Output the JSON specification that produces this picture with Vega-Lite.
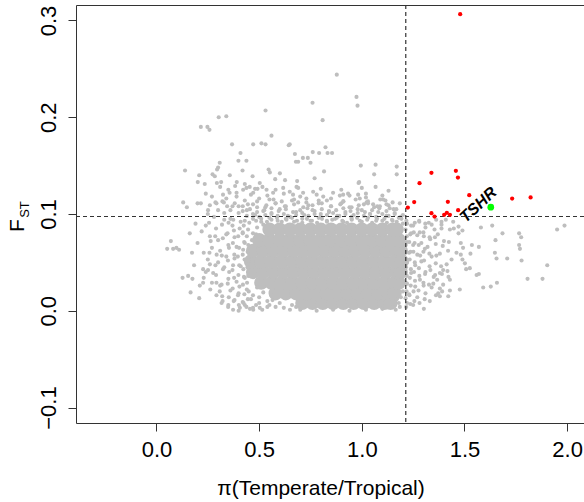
{
  "$schema": "https://vega.github.io/schema/vega-lite/v6.json",
  "width": 508,
  "height": 418,
  "autosize": {"type": "none"},
  "padding": {"left": 76, "top": 5, "right": 0, "bottom": 79},
  "background": "white",
  "config": {"view": {"stroke": null}, "font": "Liberation Sans"},
  "datasets": {
    "core": [
      {"x":0.71,"y":0.008},{"x":0.76,"y":0.008},{"x":0.81,"y":0.008},{"x":0.86,"y":0.008},{"x":0.91,"y":0.008},{"x":0.96,"y":0.008},{"x":1.01,"y":0.008},{"x":1.06,"y":0.008},{"x":1.11,"y":0.008},{"x":1.14,"y":0.008},
      {"x":0.58,"y":0.018},{"x":0.63,"y":0.018},{"x":0.68,"y":0.018},{"x":0.73,"y":0.018},{"x":0.78,"y":0.018},{"x":0.83,"y":0.018},{"x":0.88,"y":0.018},{"x":0.93,"y":0.018},{"x":0.98,"y":0.018},{"x":1.03,"y":0.018},{"x":1.08,"y":0.018},{"x":1.13,"y":0.018},{"x":1.16,"y":0.018},
      {"x":0.51,"y":0.029},{"x":0.56,"y":0.029},{"x":0.61,"y":0.029},{"x":0.66,"y":0.029},{"x":0.71,"y":0.029},{"x":0.76,"y":0.029},{"x":0.81,"y":0.029},{"x":0.86,"y":0.029},{"x":0.91,"y":0.029},{"x":0.96,"y":0.029},{"x":1.01,"y":0.029},{"x":1.06,"y":0.029},{"x":1.11,"y":0.029},{"x":1.16,"y":0.029},{"x":1.18,"y":0.029},
      {"x":0.47,"y":0.040},{"x":0.52,"y":0.040},{"x":0.57,"y":0.040},{"x":0.62,"y":0.040},{"x":0.67,"y":0.040},{"x":0.72,"y":0.040},{"x":0.77,"y":0.040},{"x":0.82,"y":0.040},{"x":0.87,"y":0.040},{"x":0.92,"y":0.040},{"x":0.97,"y":0.040},{"x":1.02,"y":0.040},{"x":1.07,"y":0.040},{"x":1.12,"y":0.040},{"x":1.17,"y":0.040},{"x":1.19,"y":0.040},
      {"x":0.46,"y":0.051},{"x":0.51,"y":0.051},{"x":0.56,"y":0.051},{"x":0.61,"y":0.051},{"x":0.66,"y":0.051},{"x":0.71,"y":0.051},{"x":0.76,"y":0.051},{"x":0.81,"y":0.051},{"x":0.86,"y":0.051},{"x":0.91,"y":0.051},{"x":0.96,"y":0.051},{"x":1.01,"y":0.051},{"x":1.06,"y":0.051},{"x":1.11,"y":0.051},{"x":1.16,"y":0.051},{"x":1.195,"y":0.051},
      {"x":0.47,"y":0.062},{"x":0.52,"y":0.062},{"x":0.57,"y":0.062},{"x":0.62,"y":0.062},{"x":0.67,"y":0.062},{"x":0.72,"y":0.062},{"x":0.77,"y":0.062},{"x":0.82,"y":0.062},{"x":0.87,"y":0.062},{"x":0.92,"y":0.062},{"x":0.97,"y":0.062},{"x":1.02,"y":0.062},{"x":1.07,"y":0.062},{"x":1.12,"y":0.062},{"x":1.17,"y":0.062},{"x":1.19,"y":0.062},
      {"x":0.50,"y":0.073},{"x":0.55,"y":0.073},{"x":0.60,"y":0.073},{"x":0.65,"y":0.073},{"x":0.70,"y":0.073},{"x":0.75,"y":0.073},{"x":0.80,"y":0.073},{"x":0.85,"y":0.073},{"x":0.90,"y":0.073},{"x":0.95,"y":0.073},{"x":1.00,"y":0.073},{"x":1.05,"y":0.073},{"x":1.10,"y":0.073},{"x":1.15,"y":0.073},{"x":1.18,"y":0.073},
      {"x":0.55,"y":0.084},{"x":0.60,"y":0.084},{"x":0.65,"y":0.084},{"x":0.70,"y":0.084},{"x":0.75,"y":0.084},{"x":0.80,"y":0.084},{"x":0.85,"y":0.084},{"x":0.90,"y":0.084},{"x":0.95,"y":0.084},{"x":1.00,"y":0.084},{"x":1.05,"y":0.084},{"x":1.10,"y":0.084},{"x":1.15,"y":0.084},{"x":1.17,"y":0.084}
    ],
    "bg": [
      {"x":0.531,"y":0.207},{"x":0.303,"y":0.200},{"x":0.340,"y":0.201},{"x":0.216,"y":0.190},{"x":0.248,"y":0.190},{"x":0.258,"y":0.187},{"x":0.560,"y":0.181},{"x":0.511,"y":0.173},{"x":0.531,"y":0.172},{"x":0.471,"y":0.172},{"x":0.368,"y":0.172},{"x":0.644,"y":0.171},{"x":0.409,"y":0.163},{"x":0.674,"y":0.162},{"x":0.679,"y":0.154},{"x":0.690,"y":0.154},{"x":0.399,"y":0.155},{"x":0.438,"y":0.155},{"x":0.308,"y":0.153},{"x":0.300,"y":0.148},{"x":0.295,"y":0.146},{"x":0.139,"y":0.145},{"x":0.273,"y":0.141},{"x":0.284,"y":0.139},{"x":0.357,"y":0.140},{"x":0.419,"y":0.145},{"x":0.468,"y":0.139},{"x":0.546,"y":0.146},{"x":0.552,"y":0.143},{"x":0.601,"y":0.142},{"x":0.626,"y":0.135},{"x":0.578,"y":0.136},{"x":0.208,"y":0.140},{"x":0.201,"y":0.133},{"x":0.235,"y":0.131},{"x":0.294,"y":0.132},{"x":0.315,"y":0.133},{"x":0.391,"y":0.133},{"x":0.383,"y":0.129},{"x":0.430,"y":0.131},{"x":0.438,"y":0.127},{"x":0.240,"y":0.121},{"x":0.356,"y":0.122},{"x":0.471,"y":0.122},{"x":0.492,"y":0.126},{"x":0.516,"y":0.128},{"x":0.130,"y":0.112},{"x":0.148,"y":0.107},{"x":0.200,"y":0.111},{"x":0.216,"y":0.111},{"x":0.251,"y":0.104},{"x":0.292,"y":0.111},{"x":0.321,"y":0.113},{"x":0.381,"y":0.111},{"x":0.324,"y":0.120},
      {"x":0.878,"y":0.244},{"x":0.760,"y":0.215},{"x":0.974,"y":0.221},{"x":0.979,"y":0.212},{"x":0.809,"y":0.197},{"x":0.649,"y":0.172},{"x":0.713,"y":0.158},{"x":0.737,"y":0.158},{"x":0.750,"y":0.153},{"x":0.761,"y":0.164},{"x":0.792,"y":0.163},{"x":0.823,"y":0.169},{"x":0.833,"y":0.163},{"x":0.855,"y":0.163},{"x":0.816,"y":0.144},{"x":0.770,"y":0.137},{"x":0.685,"y":0.134},{"x":0.995,"y":0.150},{"x":1.067,"y":0.151},{"x":1.060,"y":0.141},{"x":1.170,"y":0.149},{"x":1.170,"y":0.141},{"x":0.987,"y":0.133},{"x":0.984,"y":0.132},{"x":1.067,"y":0.128},
      {"x":0.893,"y":0.119},{"x":0.909,"y":0.120},{"x":1.104,"y":0.115},{"x":1.115,"y":0.114},{"x":0.812,"y":0.118},{"x":0.763,"y":0.123},{"x":0.714,"y":0.122},{"x":0.665,"y":0.120},{"x":0.933,"y":0.121},{"x":0.982,"y":0.120},{"x":0.990,"y":0.116},{"x":1.023,"y":0.112},{"x":1.055,"y":0.110},{"x":1.088,"y":0.108},{"x":1.136,"y":0.106},{"x":1.168,"y":0.105},{"x":1.185,"y":0.111},{"x":0.390,"y":0.122},{"x":0.422,"y":0.125},{"x":0.454,"y":0.128},{"x":0.503,"y":0.132},{"x":0.536,"y":0.125},{"x":0.568,"y":0.122},{"x":0.617,"y":0.127},{"x":0.649,"y":0.123},{"x":0.682,"y":0.128},{"x":0.287,"y":0.112},{"x":0.328,"y":0.112},{"x":0.344,"y":0.108},
      {"x":0.40,"y":0.101},{"x":0.44,"y":0.104},{"x":0.48,"y":0.099},{"x":0.52,"y":0.103},{"x":0.56,"y":0.100},{"x":0.60,"y":0.105},{"x":0.64,"y":0.098},{"x":0.68,"y":0.102},{"x":0.72,"y":0.099},{"x":0.76,"y":0.104},{"x":0.80,"y":0.100},{"x":0.84,"y":0.103},{"x":0.88,"y":0.098},{"x":0.92,"y":0.102},{"x":0.96,"y":0.099},{"x":1.00,"y":0.104},{"x":1.04,"y":0.100},{"x":1.08,"y":0.102},{"x":1.12,"y":0.098},{"x":1.16,"y":0.101},{"x":1.20,"y":0.099},{"x":0.42,"y":0.108},{"x":0.47,"y":0.110},{"x":0.53,"y":0.107},{"x":0.58,"y":0.111},{"x":0.63,"y":0.108},{"x":0.69,"y":0.112},{"x":0.74,"y":0.109},{"x":0.79,"y":0.111},{"x":0.85,"y":0.108},{"x":0.90,"y":0.111},{"x":0.95,"y":0.107},{"x":1.01,"y":0.110},{"x":1.06,"y":0.107},{"x":1.13,"y":0.109},{"x":0.50,"y":0.116},{"x":0.57,"y":0.115},{"x":0.66,"y":0.114},{"x":0.73,"y":0.116},{"x":0.83,"y":0.114},{"x":0.91,"y":0.113},{"x":1.02,"y":0.117},
      {"x":0.36,"y":0.095},{"x":0.43,"y":0.093},{"x":0.47,"y":0.095},{"x":0.51,"y":0.092},{"x":0.55,"y":0.096},{"x":0.59,"y":0.093},{"x":0.63,"y":0.095},{"x":0.67,"y":0.092},{"x":0.71,"y":0.095},{"x":0.75,"y":0.093},{"x":0.79,"y":0.096},{"x":0.83,"y":0.093},{"x":0.87,"y":0.095},{"x":0.91,"y":0.092},{"x":0.95,"y":0.095},{"x":0.99,"y":0.093},{"x":1.03,"y":0.096},{"x":1.07,"y":0.093},{"x":1.11,"y":0.095},{"x":1.15,"y":0.093},{"x":1.18,"y":0.096},{"x":1.20,"y":0.090},
      {"x":0.485,"y":0.093},{"x":0.510,"y":0.095},{"x":0.538,"y":0.092},{"x":0.560,"y":0.094},{"x":0.587,"y":0.096},{"x":0.610,"y":0.092},{"x":0.633,"y":0.094},{"x":0.660,"y":0.096},{"x":0.684,"y":0.093},{"x":0.710,"y":0.091},{"x":0.733,"y":0.095},{"x":0.757,"y":0.093},{"x":0.782,"y":0.091},{"x":0.806,"y":0.095},{"x":0.830,"y":0.092},{"x":0.856,"y":0.094},{"x":0.878,"y":0.096},{"x":0.905,"y":0.093},{"x":0.928,"y":0.091},{"x":0.951,"y":0.094},{"x":0.977,"y":0.096},{"x":1.000,"y":0.092},{"x":1.026,"y":0.094},{"x":1.050,"y":0.091},{"x":1.074,"y":0.095},{"x":1.100,"y":0.093},{"x":1.122,"y":0.091},{"x":1.147,"y":0.094},{"x":1.170,"y":0.092},{"x":1.193,"y":0.095},
      {"x":0.440,"y":0.098},{"x":0.470,"y":0.100},{"x":0.500,"y":0.097},{"x":0.530,"y":0.099},{"x":0.560,"y":0.101},{"x":0.590,"y":0.098},{"x":0.620,"y":0.100},{"x":0.650,"y":0.097},{"x":0.680,"y":0.099},{"x":0.710,"y":0.101},{"x":0.740,"y":0.098},{"x":0.770,"y":0.100},{"x":0.800,"y":0.097},{"x":0.830,"y":0.099},{"x":0.860,"y":0.101},{"x":0.890,"y":0.098},{"x":0.920,"y":0.100},{"x":0.950,"y":0.097},{"x":0.980,"y":0.101},{"x":1.010,"y":0.098},{"x":1.040,"y":0.100},{"x":1.070,"y":0.097},{"x":1.100,"y":0.100},{"x":1.130,"y":0.098},{"x":1.160,"y":0.100},{"x":1.190,"y":0.097},
      {"x":0.420,"y":0.103},{"x":0.455,"y":0.105},{"x":0.490,"y":0.102},{"x":0.525,"y":0.104},{"x":0.560,"y":0.106},{"x":0.595,"y":0.103},{"x":0.630,"y":0.105},{"x":0.665,"y":0.102},{"x":0.700,"y":0.104},{"x":0.735,"y":0.106},{"x":0.770,"y":0.103},{"x":0.805,"y":0.105},{"x":0.840,"y":0.102},{"x":0.875,"y":0.104},{"x":0.910,"y":0.106},{"x":0.945,"y":0.103},{"x":0.980,"y":0.105},{"x":1.015,"y":0.102},{"x":1.050,"y":0.104},{"x":1.085,"y":0.106},{"x":1.120,"y":0.103},{"x":1.155,"y":0.105},
      {"x":0.400,"y":0.108},{"x":0.445,"y":0.110},{"x":0.490,"y":0.107},{"x":0.535,"y":0.109},{"x":0.580,"y":0.111},{"x":0.625,"y":0.108},{"x":0.670,"y":0.110},{"x":0.715,"y":0.107},{"x":0.760,"y":0.109},{"x":0.805,"y":0.111},{"x":0.850,"y":0.108},{"x":0.895,"y":0.110},{"x":0.940,"y":0.107},{"x":0.985,"y":0.109},{"x":1.030,"y":0.111},{"x":1.075,"y":0.108},{"x":1.120,"y":0.110},
      {"x":0.430,"y":0.114},{"x":0.490,"y":0.113},{"x":0.550,"y":0.115},{"x":0.610,"y":0.113},{"x":0.670,"y":0.115},{"x":0.730,"y":0.112},{"x":0.790,"y":0.114},{"x":0.850,"y":0.116},{"x":0.910,"y":0.113},{"x":0.970,"y":0.115},{"x":1.030,"y":0.113},{"x":1.090,"y":0.115},{"x":1.150,"y":0.112},
      {"x":0.460,"y":0.120},{"x":0.540,"y":0.119},{"x":0.620,"y":0.121},{"x":0.700,"y":0.118},{"x":0.780,"y":0.120},{"x":0.860,"y":0.122},{"x":0.940,"y":0.119},{"x":1.020,"y":0.121},{"x":1.100,"y":0.119},
      {"x":0.480,"y":0.126},{"x":0.580,"y":0.125},{"x":0.690,"y":0.127},{"x":0.800,"y":0.126},{"x":0.900,"y":0.125},{"x":1.000,"y":0.127},{"x":1.130,"y":0.124},
      {"x":0.30,"y":0.104},{"x":0.34,"y":0.116},{"x":0.37,"y":0.108},{"x":0.27,"y":0.118},{"x":0.39,"y":0.118},{"x":0.35,"y":0.125},{"x":0.31,"y":0.128},{"x":0.26,"y":0.109},
      {"x":0.070,"y":0.072},{"x":0.052,"y":0.064},{"x":0.081,"y":0.064},{"x":0.110,"y":0.063},{"x":0.097,"y":0.065},{"x":0.162,"y":0.080},{"x":0.200,"y":0.070},{"x":0.173,"y":0.060},{"x":0.183,"y":0.047},{"x":0.227,"y":0.043},{"x":0.127,"y":0.034},{"x":0.154,"y":0.036},{"x":0.175,"y":0.033},{"x":0.227,"y":0.029},{"x":0.211,"y":0.026},{"x":0.166,"y":0.019},{"x":0.208,"y":0.013},{"x":0.230,"y":0.034},{"x":0.251,"y":0.042},{"x":0.260,"y":0.048},{"x":0.276,"y":0.039},{"x":0.292,"y":0.029},{"x":0.308,"y":0.020},{"x":0.317,"y":0.008},{"x":0.349,"y":0.004},{"x":0.373,"y":0.001},{"x":0.406,"y":0.003},{"x":0.438,"y":0.004},{"x":0.471,"y":0.001},{"x":0.503,"y":0.003},
      {"x":0.41,"y":0.092},{"x":0.37,"y":0.088},{"x":0.33,"y":0.094},{"x":0.29,"y":0.085},{"x":0.42,"y":0.080},{"x":0.38,"y":0.076},{"x":0.34,"y":0.079},{"x":0.30,"y":0.073},{"x":0.26,"y":0.077},{"x":0.43,"y":0.070},{"x":0.39,"y":0.066},{"x":0.35,"y":0.068},{"x":0.31,"y":0.062},{"x":0.27,"y":0.065},{"x":0.23,"y":0.060},{"x":0.42,"y":0.058},{"x":0.38,"y":0.054},{"x":0.34,"y":0.056},{"x":0.30,"y":0.050},{"x":0.25,"y":0.053},{"x":0.41,"y":0.046},{"x":0.37,"y":0.042},{"x":0.33,"y":0.045},{"x":0.29,"y":0.037},{"x":0.24,"y":0.040},{"x":0.43,"y":0.034},{"x":0.39,"y":0.030},{"x":0.35,"y":0.033},{"x":0.31,"y":0.026},{"x":0.27,"y":0.029},{"x":0.44,"y":0.022},{"x":0.40,"y":0.018},{"x":0.36,"y":0.021},{"x":0.32,"y":0.015},{"x":0.46,"y":0.012},{"x":0.42,"y":0.009},{"x":0.38,"y":0.011},{"x":0.50,"y":0.008},{"x":0.55,"y":0.006},{"x":0.47,"y":0.003},{"x":0.35,"y":0.006},{"x":0.50,"y":0.014},{"x":0.54,"y":0.010},{"x":0.58,"y":0.004},{"x":0.62,"y":0.003},{"x":0.66,"y":0.006},{"x":0.24,"y":0.088},{"x":0.28,"y":0.097},{"x":0.22,"y":0.082},{"x":0.19,"y":0.090},{"x":0.25,"y":0.100},{"x":0.33,"y":0.101},{"x":0.36,"y":0.104},
      {"x":0.445,"y":0.012},{"x":0.449,"y":0.020},{"x":0.441,"y":0.029},{"x":0.447,"y":0.036},{"x":0.443,"y":0.045},{"x":0.450,"y":0.052},{"x":0.444,"y":0.061},{"x":0.447,"y":0.068},{"x":0.440,"y":0.077},{"x":0.446,"y":0.084},{"x":0.452,"y":0.091},
      {"x":0.424,"y":0.008},{"x":0.428,"y":0.017},{"x":0.421,"y":0.027},{"x":0.426,"y":0.035},{"x":0.423,"y":0.043},{"x":0.429,"y":0.053},{"x":0.422,"y":0.063},{"x":0.427,"y":0.071},{"x":0.420,"y":0.081},{"x":0.425,"y":0.088},
      {"x":0.401,"y":0.006},{"x":0.397,"y":0.016},{"x":0.404,"y":0.025},{"x":0.399,"y":0.037},{"x":0.403,"y":0.047},{"x":0.396,"y":0.056},{"x":0.402,"y":0.065},{"x":0.398,"y":0.077},{"x":0.405,"y":0.085},
      {"x":0.376,"y":0.010},{"x":0.371,"y":0.023},{"x":0.378,"y":0.034},{"x":0.373,"y":0.047},{"x":0.379,"y":0.058},{"x":0.372,"y":0.070},{"x":0.377,"y":0.083},{"x":0.374,"y":0.094},
      {"x":0.352,"y":0.014},{"x":0.347,"y":0.028},{"x":0.354,"y":0.040},{"x":0.348,"y":0.052},{"x":0.353,"y":0.065},{"x":0.346,"y":0.080},{"x":0.351,"y":0.091},
      {"x":0.322,"y":0.010},{"x":0.317,"y":0.027},{"x":0.324,"y":0.043},{"x":0.318,"y":0.057},{"x":0.323,"y":0.075},{"x":0.319,"y":0.089},
      {"x":0.292,"y":0.016},{"x":0.287,"y":0.047},{"x":0.293,"y":0.058},{"x":0.286,"y":0.077},
      {"x":0.262,"y":0.022},{"x":0.258,"y":0.060},{"x":0.264,"y":0.072},{"x":0.256,"y":0.091},
      {"x":0.47,"y":0.080},{"x":0.49,"y":0.086},{"x":0.52,"y":0.089},{"x":0.465,"y":0.073},{"x":0.455,"y":0.066},{"x":0.485,"y":0.079},
      {"x":0.400,"y":0.000},{"x":0.430,"y":0.006},{"x":0.455,"y":0.002},{"x":0.485,"y":0.006},{"x":0.515,"y":0.001},{"x":0.540,"y":0.004},{"x":0.565,"y":0.011},{"x":0.600,"y":0.008},{"x":0.625,"y":0.013},{"x":0.650,"y":0.001},{"x":0.680,"y":0.004},{"x":0.520,"y":0.019},{"x":0.560,"y":0.016},{"x":0.470,"y":0.016},{"x":0.490,"y":0.024},{"x":1.165,"y":0.001},{"x":1.185,"y":0.004},{"x":1.200,"y":0.020},{"x":1.170,"y":0.012},
      {"x":0.70,"y":0.001},{"x":0.78,"y":0.000},{"x":0.86,"y":0.001},{"x":0.94,"y":0.000},{"x":1.02,"y":0.001},{"x":1.10,"y":0.002},{"x":1.15,"y":0.004},{"x":1.18,"y":0.008},{"x":1.19,"y":0.014},
      {"x":1.22,"y":0.090},{"x":1.25,"y":0.088},{"x":1.28,"y":0.092},{"x":1.31,"y":0.086},{"x":1.34,"y":0.089},{"x":1.24,"y":0.080},{"x":1.27,"y":0.078},{"x":1.30,"y":0.081},{"x":1.33,"y":0.076},{"x":1.37,"y":0.079},{"x":1.22,"y":0.071},{"x":1.25,"y":0.068},{"x":1.29,"y":0.070},{"x":1.32,"y":0.066},{"x":1.36,"y":0.069},{"x":1.40,"y":0.072},{"x":1.23,"y":0.060},{"x":1.27,"y":0.058},{"x":1.30,"y":0.061},{"x":1.34,"y":0.056},{"x":1.38,"y":0.059},{"x":1.42,"y":0.062},{"x":1.22,"y":0.050},{"x":1.26,"y":0.047},{"x":1.29,"y":0.051},{"x":1.33,"y":0.046},{"x":1.36,"y":0.049},{"x":1.24,"y":0.039},{"x":1.28,"y":0.036},{"x":1.31,"y":0.040},{"x":1.35,"y":0.035},{"x":1.39,"y":0.038},{"x":1.22,"y":0.028},{"x":1.26,"y":0.025},{"x":1.30,"y":0.029},{"x":1.34,"y":0.024},{"x":1.23,"y":0.017},{"x":1.27,"y":0.014},{"x":1.31,"y":0.018},{"x":1.22,"y":0.008},{"x":1.25,"y":0.006},{"x":1.302,"y":0.002},
      {"x":1.216,"y":0.004},{"x":1.213,"y":0.013},{"x":1.218,"y":0.020},{"x":1.214,"y":0.029},{"x":1.219,"y":0.036},{"x":1.215,"y":0.045},{"x":1.212,"y":0.052},{"x":1.217,"y":0.061},{"x":1.214,"y":0.068},{"x":1.219,"y":0.077},{"x":1.213,"y":0.084},{"x":1.217,"y":0.093},
      {"x":1.236,"y":0.007},{"x":1.232,"y":0.016},{"x":1.238,"y":0.026},{"x":1.234,"y":0.034},{"x":1.239,"y":0.043},{"x":1.233,"y":0.053},{"x":1.237,"y":0.061},{"x":1.231,"y":0.071},{"x":1.236,"y":0.079},{"x":1.240,"y":0.088},
      {"x":1.256,"y":0.010},{"x":1.252,"y":0.020},{"x":1.259,"y":0.031},{"x":1.254,"y":0.040},{"x":1.258,"y":0.050},{"x":1.251,"y":0.061},{"x":1.257,"y":0.070},{"x":1.253,"y":0.081},{"x":1.258,"y":0.091},
      {"x":1.281,"y":0.008},{"x":1.276,"y":0.021},{"x":1.283,"y":0.032},{"x":1.278,"y":0.044},{"x":1.284,"y":0.057},{"x":1.277,"y":0.068},{"x":1.282,"y":0.081},{"x":1.279,"y":0.093},
      {"x":1.306,"y":0.012},{"x":1.301,"y":0.026},{"x":1.308,"y":0.038},{"x":1.303,"y":0.052},{"x":1.307,"y":0.064},{"x":1.302,"y":0.077},{"x":1.309,"y":0.090},
      {"x":1.331,"y":0.010},{"x":1.327,"y":0.027},{"x":1.334,"y":0.042},{"x":1.329,"y":0.059},{"x":1.333,"y":0.074},{"x":1.326,"y":0.091},
      {"x":1.361,"y":0.016},{"x":1.357,"y":0.037},{"x":1.363,"y":0.057},{"x":1.356,"y":0.076},{"x":1.362,"y":0.094},
      {"x":1.391,"y":0.020},{"x":1.386,"y":0.046},{"x":1.394,"y":0.067},{"x":1.388,"y":0.089},
      {"x":1.421,"y":0.015},{"x":1.417,"y":0.041},{"x":1.424,"y":0.071},
      {"x":1.951,"y":0.084},{"x":1.987,"y":0.088},{"x":1.766,"y":0.080},{"x":1.776,"y":0.076},{"x":1.766,"y":0.068},{"x":1.770,"y":0.064},{"x":1.685,"y":0.080},{"x":1.651,"y":0.073},{"x":1.635,"y":0.088},{"x":1.580,"y":0.086},{"x":1.570,"y":0.066},{"x":1.536,"y":0.068},{"x":1.529,"y":0.059},{"x":1.648,"y":0.060},{"x":1.656,"y":0.054},{"x":1.708,"y":0.054},{"x":1.778,"y":0.052},{"x":1.903,"y":0.047},{"x":1.807,"y":0.033},{"x":1.880,"y":0.033},{"x":1.658,"y":0.029},{"x":1.628,"y":0.025},{"x":1.591,"y":0.024},{"x":1.570,"y":0.038},{"x":1.559,"y":0.037},{"x":1.526,"y":0.044},{"x":1.508,"y":0.043},{"x":1.477,"y":0.022},{"x":1.429,"y":0.021},{"x":1.372,"y":0.018},{"x":1.380,"y":0.015},{"x":1.490,"y":0.083},{"x":1.471,"y":0.087},{"x":1.448,"y":0.085},{"x":1.429,"y":0.084},{"x":1.388,"y":0.085},{"x":1.354,"y":0.084},{"x":1.388,"y":0.092},{"x":1.409,"y":0.094},{"x":1.445,"y":0.092},{"x":1.471,"y":0.080},{"x":1.482,"y":0.070},{"x":1.493,"y":0.065},{"x":1.482,"y":0.058},{"x":1.490,"y":0.053},{"x":1.502,"y":0.049},{"x":1.429,"y":0.032},{"x":1.422,"y":0.035},{"x":1.396,"y":0.042},{"x":1.413,"y":0.048},{"x":1.437,"y":0.053},{"x":1.461,"y":0.060},{"x":1.380,"y":0.039},{"x":1.367,"y":0.032},{"x":1.348,"y":0.028},{"x":1.396,"y":0.027},{"x":1.380,"y":0.023}
    ],
    "red": [
      {"x":1.479,"y":0.3065},{"x":1.339,"y":0.1426},{"x":1.458,"y":0.1446},{"x":1.468,"y":0.1377},{"x":1.281,"y":0.1319},{"x":1.523,"y":0.1195},{"x":1.732,"y":0.1160},{"x":1.822,"y":0.1171},{"x":1.255,"y":0.1123},{"x":1.224,"y":0.1067},{"x":1.419,"y":0.1126},{"x":1.469,"y":0.1040},{"x":1.339,"y":0.1009},{"x":1.354,"y":0.0974},{"x":1.401,"y":0.0992},{"x":1.414,"y":0.1012},{"x":1.429,"y":0.0992}
    ],
    "green": [{"x":1.628,"y":0.1071}],
    "lab": [{"x":1.567,"y":0.1095,"label":"TSHR"}],
    "vline": [{"v":1.214}],
    "hline": [{"h":0.0974}]
  },
  "resolve": {"axis": {"x": "independent", "y": "independent"}},
  "layer": [
    {
      "data": {"name": "core"},
      "mark": {"type": "point", "filled": true, "opacity": 1, "color": "#bebebe", "size": 200, "strokeWidth": 0},
      "encoding": {
        "x": {"field": "x", "type": "quantitative",
          "scale": {"domain": [-0.392, 2.082], "nice": false, "zero": false},
          "axis": {"orient": "bottom", "values": [0, 0.5, 1, 1.5, 2], "format": ".1f", "grid": false,
            "labelFontSize": 22, "labelFont": "Liberation Sans", "labelColor": "#000", "labelFlush": false, "labelOverlap": false, "labelBound": false,
            "tickSize": 8, "tickColor": "#333", "domainColor": "#333", "labelPadding": 8,
            "title": "π(Temperate/Tropical)", "titleFontSize": 21, "titleFont": "Liberation Sans", "titleFontWeight": "normal", "titleColor": "#000",
            "titleX": 244.5, "titleY": 71, "titleAlign": "center", "titleBaseline": "alphabetic"}},
        "y": {"field": "y", "type": "quantitative",
          "scale": {"domain": [-0.116, 0.316], "nice": false, "zero": false},
          "axis": {"orient": "left", "values": [-0.1, 0, 0.1, 0.2, 0.3], "format": ".1f", "grid": false,
            "labelFontSize": 22, "labelFont": "Liberation Sans", "labelColor": "#000", "labelFlush": false, "labelOverlap": false, "labelBound": false,
            "labelAngle": -90, "labelAlign": "center", "labelBaseline": "alphabetic",
            "tickSize": 8, "tickColor": "#333", "domainColor": "#333", "labelPadding": 13,
            "title": "F", "titleFontSize": 21, "titleFont": "Liberation Sans", "titleFontWeight": "normal", "titleColor": "#000",
            "titleAngle": -90, "titleX": -53, "titleY": 220, "titleAlign": "center", "titleBaseline": "alphabetic"}}
      }
    },
    {
      "data": {"name": "bg"},
      "mark": {"type": "point", "filled": true, "opacity": 1, "color": "#bebebe", "size": 17, "strokeWidth": 0},
      "encoding": {
        "x": {"field": "x", "type": "quantitative", "axis": null},
        "y": {"field": "y", "type": "quantitative", "axis": null}
      }
    },
    {
      "data": {"name": "vline"},
      "mark": {"type": "rule", "color": "#333", "strokeDash": [4, 3], "strokeWidth": 1.2},
      "encoding": {
        "x": {"field": "v", "type": "quantitative",
          "axis": {"orient": "top", "labels": false, "ticks": false, "domain": true, "domainColor": "#333", "grid": false, "title": null}}
      }
    },
    {
      "data": {"name": "hline"},
      "mark": {"type": "rule", "color": "#333", "strokeDash": [4, 3], "strokeWidth": 1.2},
      "encoding": {
        "y": {"field": "h", "type": "quantitative",
          "axis": {"orient": "left", "labels": false, "ticks": false, "domain": false, "grid": false,
            "title": "ST", "titleFontSize": 13, "titleFont": "Liberation Sans", "titleFontWeight": "normal", "titleColor": "#000",
            "titleAngle": -90, "titleX": -48, "titleY": 204, "titleAlign": "center", "titleBaseline": "alphabetic"}}
      }
    },
    {
      "data": {"name": "red"},
      "mark": {"type": "point", "filled": true, "opacity": 1, "color": "#ff0000", "size": 18, "strokeWidth": 0},
      "encoding": {
        "x": {"field": "x", "type": "quantitative", "axis": null},
        "y": {"field": "y", "type": "quantitative", "axis": null}
      }
    },
    {
      "data": {"name": "green"},
      "mark": {"type": "point", "filled": true, "opacity": 1, "color": "#00ff00", "size": 45, "strokeWidth": 0},
      "encoding": {
        "x": {"field": "x", "type": "quantitative", "axis": null},
        "y": {"field": "y", "type": "quantitative", "axis": null}
      }
    },
    {
      "data": {"name": "lab"},
      "mark": {"type": "text", "font": "Liberation Sans", "fontSize": 16, "fontWeight": "bold", "fontStyle": "italic", "angle": -43, "align": "center", "baseline": "middle", "color": "#000"},
      "encoding": {
        "x": {"field": "x", "type": "quantitative", "axis": null},
        "y": {"field": "y", "type": "quantitative", "axis": null},
        "text": {"field": "label"}
      }
    }
  ]
}
